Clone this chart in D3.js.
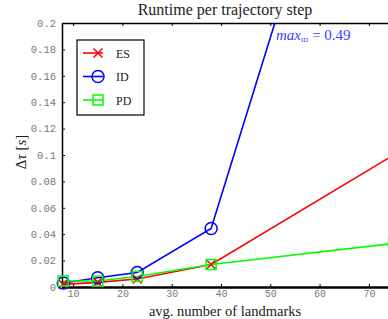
<!DOCTYPE html>
<html>
<head>
<meta charset="utf-8">
<script src="https://cdn.jsdelivr.net/npm/d3@7"></script>
<style>
  body { margin: 0; background: #fff; }
  svg { display: block; }
</style>
</head>
<body>
<svg id="chart"></svg>
<script>
// data
const landmarks = [8, 15, 23, 38, 75];
const es_time = [0.002, 0.0035, 0.006, 0.017, 0.1];
const id_time = [0.003, 0.007, 0.011, 0.0443, 0.49];
const pd_time = [0.0045, 0.0045, 0.008, 0.017, 0.033];
const x_ticks = [10, 20, 30, 40, 50, 60, 70];
const y_ticks = [0, 0.02, 0.04, 0.06, 0.08, 0.1, 0.12, 0.14, 0.16, 0.18, 0.2];
const series_names = ['ES', 'ID', 'PD'];
const max_label = 0.49;

class RuntimeChart {

    constructor( config, data ){
        this.config = {
            parent: config.parent,
            width: config.width || 388,
            height: config.height || 319,
            margin: config.margin || {top:23, right:-30, bottom:32, left:62},
            title: config.title || '',
            xlabel: config.xlabel || ''
        }
        this.data = data;
        this.init();
    }

    init(){
        let self = this;

        self.svg = d3.select( self.config.parent )
            .attr('width', self.config.width)
            .attr('height', self.config.height);

        self.inner_width = self.config.width - self.config.margin.left - self.config.margin.right;
        self.inner_height = self.config.height - self.config.margin.top - self.config.margin.bottom;

        self.chart = self.svg.append('g')
            .attr('transform', `translate(${self.config.margin.left}, ${self.config.margin.top})`);

        self.xscale = d3.scaleLinear()
            .domain([7.75, 7.75 + self.inner_width / 4.93])
            .range([0, self.inner_width]);

        self.yscale = d3.scaleLinear()
            .domain([0, 0.2])
            .range([self.inner_height, 0]);

        self.svg.append('defs').append('clipPath')
            .attr('id', 'plotclip')
            .append('rect')
            .attr('x', -8)
            .attr('y', 0)
            .attr('width', self.inner_width + 8)
            .attr('height', self.inner_height + 8);

        self.xaxis_group = self.chart.append('g')
            .attr('transform', `translate(0, ${self.inner_height})`);
        self.xaxis_top_group = self.chart.append('g');
        self.yaxis_group = self.chart.append('g');

        self.svg.append('text')
            .style('font-family', '"Liberation Serif", serif')
            .style('font-size', '16px')
            .attr('fill', '#222')
            .attr('text-anchor', 'middle')
            .attr('x', 225)
            .attr('y', 15)
            .text( self.config.title );

        self.svg.append('text')
            .style('font-family', '"Liberation Serif", serif')
            .style('font-size', '14.5px')
            .attr('fill', '#222')
            .attr('text-anchor', 'middle')
            .attr('x', 225)
            .attr('y', 315.5)
            .text( self.config.xlabel );

        const ylab = self.svg.append('text')
            .attr('transform', 'translate(26, 152) rotate(-90)')
            .style('font-family', '"Liberation Serif", serif')
            .style('font-size', '15px')
            .attr('fill', '#222')
            .attr('text-anchor', 'middle');
        ylab.append('tspan').text('Δ');
        ylab.append('tspan').style('font-style', 'italic').text('τ');
        ylab.append('tspan').text(' [');
        ylab.append('tspan').style('font-style', 'italic').text('s');
        ylab.append('tspan').text(']');

        self.plot = self.chart.append('g')
            .attr('clip-path', 'url(#plotclip)');
        self.legend = self.chart.append('g')
            .attr('transform', 'translate(15, 17)');
    }

    update(){
        let self = this;
        self.render();
    }

    render(){
        let self = this;

        const line = d3.line()
            .x( d => self.xscale(d.x))
            .y( d => self.yscale(d.y));

        const lines = self.plot.append('g')
            .attr('clip-path', 'url(#plotclip)');

        self.data.forEach( s => {
            const pts = landmarks.map((x, i) => ({x: x, y: s.values[i]}));
            lines.append('path')
                .attr('d', line(pts))
                .attr('stroke', s.color)
                .attr('stroke-width', 1.6)
                .attr('fill', 'none');
            const marks = self.plot.append('g');
            pts.filter(d => d.y <= 0.2).forEach( d => {
                self.marker(marks, s.marker, self.xscale(d.x), self.yscale(d.y), s.color);
            });
        });

        // annotation for the clipped ID line
        const ann = self.chart.append('text')
            .attr('x', 276 - self.config.margin.left)
            .attr('y', 40 - self.config.margin.top)
            .attr('fill', '#3c3cff')
            .style('font-family', '"Liberation Serif", serif')
            .style('font-size', '15px');
        ann.append('tspan').style('font-style', 'italic').text('max');
        ann.append('tspan').style('font-size', '7px').attr('dy', 2).text('ID');
        ann.append('tspan').attr('dy', -2).text(` = ${max_label}`);

        // legend
        self.legend.append('rect')
            .attr('width', 67)
            .attr('height', 75)
            .attr('fill', '#fff')
            .attr('stroke', '#000')
            .attr('stroke-width', 1.2);
        self.data.forEach( (s, i) => {
            const y = 13 + i * 23.5;
            self.legend.append('line')
                .attr('x1', 6).attr('x2', 26)
                .attr('y1', y).attr('y2', y)
                .attr('stroke', s.color)
                .attr('stroke-width', 1.6);
            self.marker(self.legend, s.marker, 21, y, s.color);
            self.legend.append('text')
                .attr('x', 39)
                .attr('y', y + 4.5)
                .style('font-family', '"Liberation Serif", serif')
                .style('font-size', '12px')
                .attr('fill', '#222')
                .text(s.name);
        });

        const tick_fmt = d => d === 0 ? '0' : d3.format('.2~f')(d);

        self.xaxis_group
            .call( d3.axisBottom(self.xscale).tickValues(x_ticks).tickSizeInner(-3).tickSizeOuter(0).tickPadding(3) );
        self.xaxis_top_group
            .call( d3.axisTop(self.xscale).tickValues(x_ticks).tickSizeInner(-3).tickSizeOuter(0).tickFormat('') );
        self.yaxis_group
            .call( d3.axisLeft(self.yscale).tickValues(y_ticks).tickSizeInner(-3).tickSizeOuter(0).tickPadding(6).tickFormat(tick_fmt) );

        [self.xaxis_group, self.xaxis_top_group, self.yaxis_group].forEach( g => {
            g.selectAll('text')
                .style('font-family', '"Liberation Mono", monospace')
                .style('font-size', '10.5px')
                .attr('fill', '#777');
            g.selectAll('line').attr('stroke', '#000');
        });
        self.xaxis_group.selectAll('text').style('font-size', '10px');
        self.xaxis_group.select('.domain').attr('stroke', '#000').attr('stroke-width', 2.5);
        self.xaxis_top_group.select('.domain').attr('stroke', '#000').attr('stroke-width', 1.5);
        self.yaxis_group.select('.domain').attr('stroke', '#000').attr('stroke-width', 1.5);
    }

    marker(g, kind, cx, cy, color){
        if (kind === 'circle') {
            g.append('circle')
                .attr('cx', cx).attr('cy', cy).attr('r', 6)
                .attr('fill', 'none').attr('stroke', color).attr('stroke-width', 1.5);
        } else if (kind === 'square') {
            g.append('rect')
                .attr('x', cx - 5).attr('y', cy - 5)
                .attr('width', 10).attr('height', 10)
                .attr('fill', 'none').attr('stroke', color).attr('stroke-width', 1.5);
        } else {
            const r = 4.5;
            g.append('path')
                .attr('d', `M${cx-r},${cy-r}L${cx+r},${cy+r}M${cx-r},${cy+r}L${cx+r},${cy-r}`)
                .attr('stroke', color).attr('stroke-width', 1.5);
        }
    }
}

const series = [
    {name: series_names[0], values: es_time, color: '#ff0000', marker: 'x'},
    {name: series_names[1], values: id_time, color: '#0000ff', marker: 'circle'},
    {name: series_names[2], values: pd_time, color: '#00ff00', marker: 'square'}
];

const chart = new RuntimeChart({
    parent: '#chart',
    title: 'Runtime per trajectory step',
    xlabel: 'avg. number of landmarks'
}, series);
chart.update();
</script>
</body>
</html>
